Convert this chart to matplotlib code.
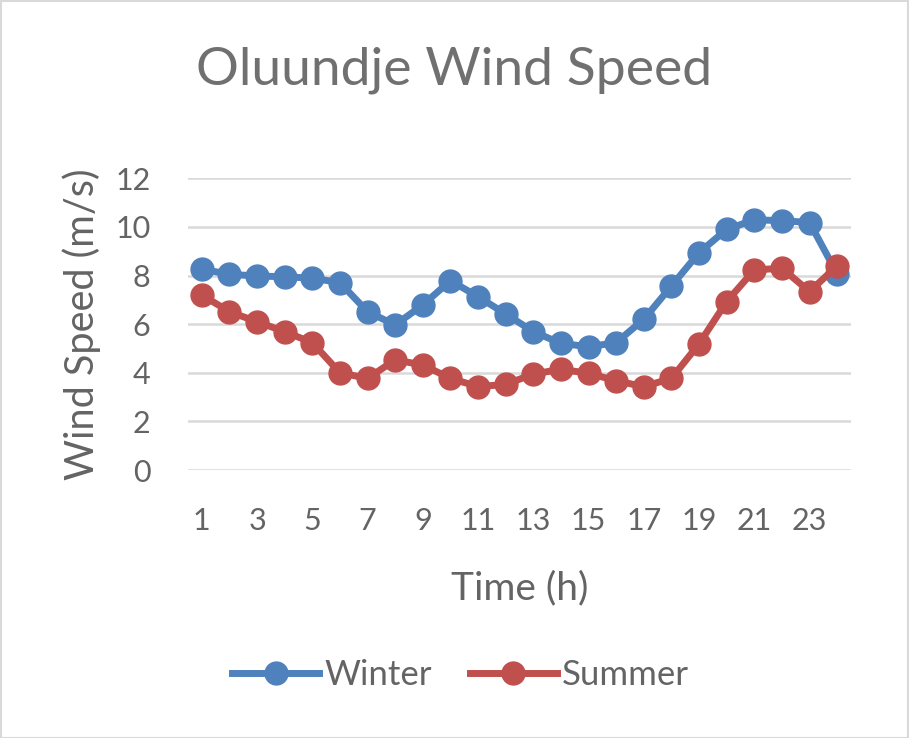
import matplotlib
matplotlib.use("Agg")
import matplotlib.pyplot as plt
from matplotlib.lines import Line2D
from matplotlib.patches import Rectangle

plt.rcParams['font.family'] = ['Lato', 'DejaVu Sans']

hours = list(range(1, 25))
winter = [8.26, 8.05, 7.98, 7.95, 7.89, 7.71, 6.51, 5.97, 6.79, 7.79, 7.13, 6.42,
          5.69, 5.21, 5.07, 5.24, 6.20, 7.57, 8.94, 9.90, 10.29, 10.26, 10.18, 8.07]
summer = [7.20, 6.51, 6.10, 5.69, 5.24, 4.00, 3.77, 4.53, 4.32, 3.77, 3.43, 3.52,
          3.95, 4.14, 3.98, 3.67, 3.43, 3.77, 5.19, 6.93, 8.23, 8.30, 7.34, 8.40]
xticks = list(range(1, 24, 2))
yticks = [0, 2, 4, 6, 8, 10, 12]

BLUE = '#4F81BD'
RED = '#C0504D'
TXT = '#646464'
TITLE = '#707070'
GRID = '#D9D9D9'

W, H = 909, 738
fig = plt.figure(figsize=(W / 100, H / 100), dpi=100)
ax = fig.add_axes([188 / W, 1 - 470 / H, 663 / W, (470 - 178.3) / H])

ax.plot(hours, winter, color=BLUE, lw=5, marker='o', ms=16.5, label='Winter', zorder=3)
ax.plot(hours, summer, color=RED, lw=5, marker='o', ms=16.5, label='Summer', zorder=4)

ax.set_xlim(0.5, 24.5)
ax.set_ylim(0, 12)
ax.set_xticks(xticks)
ax.set_yticks(yticks)
ax.tick_params(length=0, labelsize=22, labelcolor=TXT)
ax.tick_params(axis='x', pad=27)
ax.tick_params(axis='y', pad=27)
for s in ax.spines.values():
    s.set_visible(False)
ax.grid(axis='y', color=GRID, lw=1.8, zorder=0)
ax.set_axisbelow(True)

ax.set_xlabel('Time (h)', fontsize=28, color=TXT, labelpad=25)
ax.set_ylabel('Wind Speed (m/s)', fontsize=28.5, color=TXT, labelpad=10)

fig.text(0.5, 1 - 70 / H, 'Oluundje Wind Speed', ha='center', va='center',
         fontsize=38.5, color=TITLE)

handles = [Line2D([], [], color=BLUE, lw=5, marker='o', ms=16.5),
           Line2D([], [], color=RED, lw=5, marker='o', ms=16.5)]
fig.legend(handles, ['Winter', 'Summer'], loc='center', bbox_to_anchor=(460.5 / W, 1 - 675 / H),
           ncol=2, frameon=False, fontsize=25, labelcolor=TXT, handlelength=2.5,
           handletextpad=0.15, columnspacing=1.1)

fig.patches.append(Rectangle((0.5 / W, 0.5 / H), 1 - 1.5 / W, 1 - 1.5 / H, transform=fig.transFigure,
                             fill=False, edgecolor=GRID, lw=1.5))

fig.savefig('out.png', dpi=100, facecolor='white')
